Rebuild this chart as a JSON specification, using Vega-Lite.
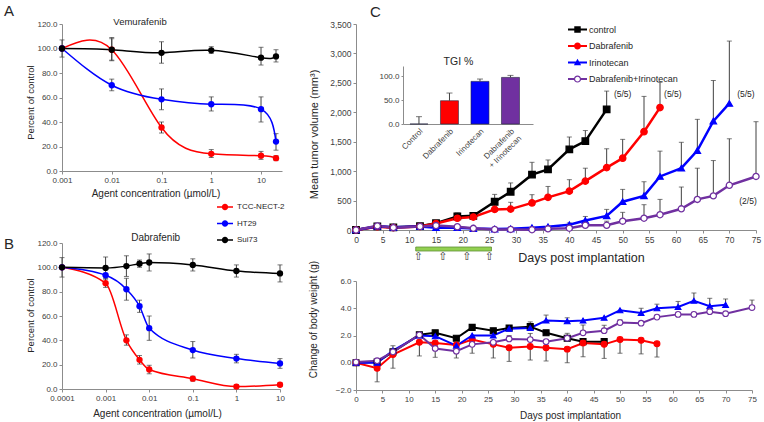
{
"$schema": "https://vega.github.io/schema/vega-lite/v6.json",
"padding": {"left": 3, "top": 4, "right": 2, "bottom": 2},
"autosize": {"type": "pad"},
"background": "white",
"config": {
  "font": "Liberation Sans",
  "view": {"stroke": null},
  "axis": {"grid": false, "domainColor": "#8c8c8c", "tickColor": "#8c8c8c", "tickSize": 3, "labelColor": "#404040", "labelFontSize": 8, "titleColor": "#262626", "titleFontWeight": "normal", "titleFontSize": 10, "labelPadding": 2, "labelFlush": false, "labelOverlap": false},
  "legend": {"title": null}
},
"datasets": {
  "icA": [
    {"line":"TCC-NECT-2","conc":0.001,"pct":100,"lo":100,"hi":100},
    {"line":"TCC-NECT-2","conc":0.01,"pct":99,"lo":90,"hi":108},
    {"line":"TCC-NECT-2","conc":0.1,"pct":35.5,"lo":31,"hi":40},
    {"line":"TCC-NECT-2","conc":1,"pct":14,"lo":11,"hi":17.5},
    {"line":"TCC-NECT-2","conc":10,"pct":12.5,"lo":9.5,"hi":16},
    {"line":"TCC-NECT-2","conc":20,"pct":10.5,"lo":8.5,"hi":12.5},
    {"line":"HT29","conc":0.001,"pct":100,"lo":100,"hi":100},
    {"line":"HT29","conc":0.01,"pct":70,"lo":65.5,"hi":75},
    {"line":"HT29","conc":0.1,"pct":58.5,"lo":50,"hi":67},
    {"line":"HT29","conc":1,"pct":54.5,"lo":49,"hi":60.5},
    {"line":"HT29","conc":10,"pct":50.5,"lo":40,"hi":60.5},
    {"line":"HT29","conc":20,"pct":24,"lo":17,"hi":30.5},
    {"line":"Sui73","conc":0.001,"pct":100,"lo":93,"hi":107},
    {"line":"Sui73","conc":0.01,"pct":99,"lo":90.5,"hi":109},
    {"line":"Sui73","conc":0.1,"pct":96.5,"lo":88,"hi":105.5},
    {"line":"Sui73","conc":1,"pct":98.5,"lo":96,"hi":101.5},
    {"line":"Sui73","conc":10,"pct":92.5,"lo":86.5,"hi":101},
    {"line":"Sui73","conc":20,"pct":93.5,"lo":89,"hi":99}
  ],
  "icB": [
    {"line":"TCC-NECT-2","conc":0.0001,"pct":100,"lo":100,"hi":100},
    {"line":"TCC-NECT-2","conc":0.001,"pct":87,"lo":83.5,"hi":90.5},
    {"line":"TCC-NECT-2","conc":0.003,"pct":40,"lo":36,"hi":44.5},
    {"line":"TCC-NECT-2","conc":0.006,"pct":24,"lo":20.5,"hi":27.5},
    {"line":"TCC-NECT-2","conc":0.01,"pct":16,"lo":12.5,"hi":19.5},
    {"line":"TCC-NECT-2","conc":0.1,"pct":8.5,"lo":6.5,"hi":10.5},
    {"line":"TCC-NECT-2","conc":1,"pct":2,"lo":0.5,"hi":3.5},
    {"line":"TCC-NECT-2","conc":10,"pct":3.5,"lo":2,"hi":5},
    {"line":"HT29","conc":0.0001,"pct":100,"lo":100,"hi":100},
    {"line":"HT29","conc":0.001,"pct":93.5,"lo":92,"hi":95},
    {"line":"HT29","conc":0.003,"pct":82,"lo":73,"hi":91},
    {"line":"HT29","conc":0.006,"pct":68,"lo":63,"hi":73},
    {"line":"HT29","conc":0.01,"pct":50,"lo":40,"hi":60},
    {"line":"HT29","conc":0.1,"pct":32,"lo":25.5,"hi":39},
    {"line":"HT29","conc":1,"pct":25,"lo":21.5,"hi":28.5},
    {"line":"HT29","conc":10,"pct":21,"lo":17,"hi":25},
    {"line":"Sui73","conc":0.0001,"pct":100,"lo":92,"hi":108},
    {"line":"Sui73","conc":0.001,"pct":99.5,"lo":90.5,"hi":108.5},
    {"line":"Sui73","conc":0.003,"pct":101,"lo":92.5,"hi":109.5},
    {"line":"Sui73","conc":0.006,"pct":103,"lo":100,"hi":106},
    {"line":"Sui73","conc":0.01,"pct":104,"lo":97,"hi":111},
    {"line":"Sui73","conc":0.1,"pct":102,"lo":97,"hi":107},
    {"line":"Sui73","conc":1,"pct":97,"lo":92,"hi":102},
    {"line":"Sui73","conc":10,"pct":95,"lo":88,"hi":102}
  ],
  "legB": [{"line":"TCC-NECT-2"},{"line":"HT29"},{"line":"Sui73"}],
  "legC": [{"group":"control"},{"group":"Dabrafenib"},{"group":"Irinotecan"},{"group":"Dabrafenib+Irinotecan"}],
  "one": [{}],
  "doses": [{"day":11.7},{"day":16.3},{"day":20.8},{"day":25}],
  "tgi": [
    {"agent":"Control","tgi":0,"hi":15.3},
    {"agent":"Dabrafenib","tgi":48.6,"hi":64.6},
    {"agent":"Irinotecan","tgi":88.9,"hi":93.8},
    {"agent":"Dabrafenib + Irinotecan","tgi":97.2,"hi":101.4}
  ],
  "tumor": [
    {"group":"control","day":0,"vol":0},{"group":"control","day":4,"vol":60},{"group":"control","day":7,"vol":45},{"group":"control","day":12,"vol":65},{"group":"control","day":15,"vol":115},
    {"group":"control","day":19,"vol":230,"hi":290},{"group":"control","day":22,"vol":240,"hi":270},{"group":"control","day":26,"vol":480,"hi":605},{"group":"control","day":29,"vol":650,"hi":800},
    {"group":"control","day":33,"vol":940,"hi":1150},{"group":"control","day":36,"vol":1030,"hi":1190},{"group":"control","day":40,"vol":1370,"hi":1580},{"group":"control","day":43,"vol":1510,"hi":1690},{"group":"control","day":47,"vol":2050,"hi":2360},
    {"group":"Dabrafenib","day":0,"vol":0},{"group":"Dabrafenib","day":4,"vol":55},{"group":"Dabrafenib","day":7,"vol":40},{"group":"Dabrafenib","day":12,"vol":60},{"group":"Dabrafenib","day":15,"vol":110},
    {"group":"Dabrafenib","day":19,"vol":200,"hi":240},{"group":"Dabrafenib","day":22,"vol":220,"hi":250},{"group":"Dabrafenib","day":26,"vol":350,"hi":425},{"group":"Dabrafenib","day":29,"vol":355,"hi":470},
    {"group":"Dabrafenib","day":33,"vol":460,"hi":600},{"group":"Dabrafenib","day":36,"vol":555,"hi":740},{"group":"Dabrafenib","day":40,"vol":660,"hi":855},{"group":"Dabrafenib","day":43,"vol":830,"hi":1050},
    {"group":"Dabrafenib","day":47,"vol":1060,"hi":1380},{"group":"Dabrafenib","day":50,"vol":1220,"hi":1540},{"group":"Dabrafenib","day":54,"vol":1670,"hi":2270},{"group":"Dabrafenib","day":57,"vol":2080,"hi":2510},
    {"group":"Irinotecan","day":0,"vol":0},{"group":"Irinotecan","day":4,"vol":65},{"group":"Irinotecan","day":7,"vol":45},{"group":"Irinotecan","day":12,"vol":60},{"group":"Irinotecan","day":15,"vol":40},
    {"group":"Irinotecan","day":19,"vol":40},{"group":"Irinotecan","day":22,"vol":25},{"group":"Irinotecan","day":26,"vol":15},{"group":"Irinotecan","day":29,"vol":20},{"group":"Irinotecan","day":33,"vol":40},
    {"group":"Irinotecan","day":36,"vol":55},{"group":"Irinotecan","day":40,"vol":90,"hi":120},{"group":"Irinotecan","day":43,"vol":160,"hi":230},{"group":"Irinotecan","day":47,"vol":240,"hi":350},
    {"group":"Irinotecan","day":50,"vol":480,"hi":690},{"group":"Irinotecan","day":54,"vol":580,"hi":820},{"group":"Irinotecan","day":57,"vol":910,"hi":1340},{"group":"Irinotecan","day":61,"vol":1050,"hi":1490},
    {"group":"Irinotecan","day":64,"vol":1350,"hi":1880},{"group":"Irinotecan","day":67,"vol":1850,"hi":2540},{"group":"Irinotecan","day":70,"vol":2150,"hi":3210},
    {"group":"Dabrafenib+Irinotecan","day":0,"vol":0},{"group":"Dabrafenib+Irinotecan","day":4,"vol":70},{"group":"Dabrafenib+Irinotecan","day":7,"vol":40},{"group":"Dabrafenib+Irinotecan","day":12,"vol":60},
    {"group":"Dabrafenib+Irinotecan","day":15,"vol":75},{"group":"Dabrafenib+Irinotecan","day":19,"vol":55},{"group":"Dabrafenib+Irinotecan","day":22,"vol":28},{"group":"Dabrafenib+Irinotecan","day":26,"vol":10},
    {"group":"Dabrafenib+Irinotecan","day":29,"vol":10},{"group":"Dabrafenib+Irinotecan","day":33,"vol":5},{"group":"Dabrafenib+Irinotecan","day":36,"vol":20},{"group":"Dabrafenib+Irinotecan","day":40,"vol":30},
    {"group":"Dabrafenib+Irinotecan","day":43,"vol":80,"hi":150},{"group":"Dabrafenib+Irinotecan","day":47,"vol":80,"hi":150},{"group":"Dabrafenib+Irinotecan","day":50,"vol":150,"hi":300},
    {"group":"Dabrafenib+Irinotecan","day":54,"vol":200,"hi":430},{"group":"Dabrafenib+Irinotecan","day":57,"vol":260,"hi":520},{"group":"Dabrafenib+Irinotecan","day":61,"vol":360,"hi":730},
    {"group":"Dabrafenib+Irinotecan","day":64,"vol":520,"hi":1050},{"group":"Dabrafenib+Irinotecan","day":67,"vol":580,"hi":1180},{"group":"Dabrafenib+Irinotecan","day":70,"vol":760,"hi":1550},
    {"group":"Dabrafenib+Irinotecan","day":75,"vol":910,"hi":1840}
  ],
  "bw": [
    {"group":"control","day":0,"bw":0},{"group":"control","day":4,"bw":0.05},{"group":"control","day":7,"bw":0.8},{"group":"control","day":12,"bw":2.05},{"group":"control","day":15,"bw":2.2},
    {"group":"control","day":19,"bw":1.8},{"group":"control","day":22,"bw":2.6},{"group":"control","day":26,"bw":2.35},{"group":"control","day":29,"bw":2.55},{"group":"control","day":33,"bw":2.65},
    {"group":"control","day":36,"bw":2.2},{"group":"control","day":40,"bw":1.8},{"group":"control","day":43,"bw":1.55},{"group":"control","day":47,"bw":1.55},
    {"group":"Dabrafenib","day":0,"bw":0},{"group":"Dabrafenib","day":4,"bw":-0.4},{"group":"Dabrafenib","day":7,"bw":0.6},{"group":"Dabrafenib","day":12,"bw":1.5},{"group":"Dabrafenib","day":15,"bw":1.45},
    {"group":"Dabrafenib","day":19,"bw":1.3},{"group":"Dabrafenib","day":22,"bw":1.7},{"group":"Dabrafenib","day":26,"bw":1.35},{"group":"Dabrafenib","day":29,"bw":1.1},{"group":"Dabrafenib","day":33,"bw":1.2},
    {"group":"Dabrafenib","day":36,"bw":1.1},{"group":"Dabrafenib","day":40,"bw":1.0},{"group":"Dabrafenib","day":43,"bw":1.45},{"group":"Dabrafenib","day":47,"bw":1.35},{"group":"Dabrafenib","day":50,"bw":1.7},
    {"group":"Dabrafenib","day":54,"bw":1.65},{"group":"Dabrafenib","day":57,"bw":1.4},
    {"group":"Irinotecan","day":0,"bw":0},{"group":"Irinotecan","day":4,"bw":0.0},{"group":"Irinotecan","day":7,"bw":0.9},{"group":"Irinotecan","day":12,"bw":2.0},{"group":"Irinotecan","day":15,"bw":1.95},
    {"group":"Irinotecan","day":19,"bw":1.25},{"group":"Irinotecan","day":22,"bw":2.0},{"group":"Irinotecan","day":26,"bw":2.0},{"group":"Irinotecan","day":29,"bw":2.5},{"group":"Irinotecan","day":33,"bw":2.55},
    {"group":"Irinotecan","day":36,"bw":3.1},{"group":"Irinotecan","day":40,"bw":3.05},{"group":"Irinotecan","day":43,"bw":3.1},{"group":"Irinotecan","day":47,"bw":3.3},{"group":"Irinotecan","day":50,"bw":3.85},
    {"group":"Irinotecan","day":54,"bw":3.65},{"group":"Irinotecan","day":57,"bw":4.0},{"group":"Irinotecan","day":61,"bw":4.1},{"group":"Irinotecan","day":64,"bw":4.55},{"group":"Irinotecan","day":67,"bw":4.15},
    {"group":"Irinotecan","day":70,"bw":4.25},
    {"group":"Dabrafenib+Irinotecan","day":0,"bw":0.05},{"group":"Dabrafenib+Irinotecan","day":4,"bw":0.15},{"group":"Dabrafenib+Irinotecan","day":7,"bw":0.8},{"group":"Dabrafenib+Irinotecan","day":12,"bw":2.05},
    {"group":"Dabrafenib+Irinotecan","day":15,"bw":1.05},{"group":"Dabrafenib+Irinotecan","day":19,"bw":0.85},{"group":"Dabrafenib+Irinotecan","day":22,"bw":1.35},{"group":"Dabrafenib+Irinotecan","day":26,"bw":1.5},
    {"group":"Dabrafenib+Irinotecan","day":29,"bw":1.75},{"group":"Dabrafenib+Irinotecan","day":33,"bw":1.7},{"group":"Dabrafenib+Irinotecan","day":36,"bw":1.55},{"group":"Dabrafenib+Irinotecan","day":40,"bw":1.8},
    {"group":"Dabrafenib+Irinotecan","day":43,"bw":2.2},{"group":"Dabrafenib+Irinotecan","day":47,"bw":2.35},{"group":"Dabrafenib+Irinotecan","day":50,"bw":2.95},{"group":"Dabrafenib+Irinotecan","day":54,"bw":2.9},
    {"group":"Dabrafenib+Irinotecan","day":57,"bw":3.35},{"group":"Dabrafenib+Irinotecan","day":61,"bw":3.55},{"group":"Dabrafenib+Irinotecan","day":64,"bw":3.55},{"group":"Dabrafenib+Irinotecan","day":67,"bw":3.75},
    {"group":"Dabrafenib+Irinotecan","day":70,"bw":3.6},{"group":"Dabrafenib+Irinotecan","day":75,"bw":4.05}
  ],
  "bwerr": [
    {"group":"Dabrafenib","day":4,"lo":-1.4,"hi":-0.4,"cap":-1.4},{"group":"Dabrafenib","day":7,"lo":-0.4,"hi":0.6,"cap":-0.4},{"group":"Dabrafenib","day":12,"lo":0.5,"hi":1.5,"cap":0.5},
    {"group":"Dabrafenib","day":15,"lo":0.4,"hi":1.45,"cap":0.4},{"group":"Dabrafenib","day":19,"lo":0.35,"hi":1.3,"cap":0.35},{"group":"Dabrafenib","day":22,"lo":0.7,"hi":1.7,"cap":0.7},
    {"group":"Dabrafenib","day":26,"lo":0.35,"hi":1.35,"cap":0.35},{"group":"Dabrafenib","day":29,"lo":0.1,"hi":1.1,"cap":0.1},{"group":"Dabrafenib","day":33,"lo":0.2,"hi":1.2,"cap":0.2},
    {"group":"Dabrafenib","day":36,"lo":0.13,"hi":1.1,"cap":0.13},{"group":"Dabrafenib","day":40,"lo":0.0,"hi":1.0,"cap":0.0},{"group":"Dabrafenib","day":43,"lo":0.44,"hi":1.45,"cap":0.44},
    {"group":"Dabrafenib","day":47,"lo":0.32,"hi":1.35,"cap":0.32},{"group":"Dabrafenib","day":50,"lo":0.7,"hi":1.7,"cap":0.7},{"group":"Dabrafenib","day":54,"lo":0.65,"hi":1.65,"cap":0.65},
    {"group":"Dabrafenib","day":57,"lo":0.42,"hi":1.4,"cap":0.42},
    {"group":"control","day":12,"lo":2.05,"hi":2.2,"cap":2.2},{"group":"control","day":33,"lo":2.65,"hi":3.0,"cap":3.0},{"group":"control","day":40,"lo":1.8,"hi":2.16,"cap":2.16},
    {"group":"Irinotecan","day":7,"lo":0.9,"hi":1.25,"cap":1.25},{"group":"Irinotecan","day":12,"lo":2.0,"hi":2.15,"cap":2.15},{"group":"Irinotecan","day":36,"lo":3.1,"hi":3.5,"cap":3.5},
    {"group":"Irinotecan","day":40,"lo":3.05,"hi":3.3,"cap":3.3},{"group":"Irinotecan","day":54,"lo":3.65,"hi":4.0,"cap":4.0},{"group":"Irinotecan","day":57,"lo":4.0,"hi":4.3,"cap":4.3},
    {"group":"Irinotecan","day":61,"lo":4.1,"hi":4.5,"cap":4.5},{"group":"Irinotecan","day":64,"lo":4.55,"hi":5.12,"cap":5.12},{"group":"Irinotecan","day":67,"lo":4.15,"hi":4.73,"cap":4.73},
    {"group":"Irinotecan","day":70,"lo":4.25,"hi":4.68,"cap":4.68},
    {"group":"Dabrafenib+Irinotecan","day":29,"lo":1.75,"hi":2.0,"cap":2.0},{"group":"Dabrafenib+Irinotecan","day":33,"lo":1.7,"hi":2.15,"cap":2.15},{"group":"Dabrafenib+Irinotecan","day":43,"lo":2.2,"hi":2.77,"cap":2.77},
    {"group":"Dabrafenib+Irinotecan","day":47,"lo":2.35,"hi":2.75,"cap":2.75},{"group":"Dabrafenib+Irinotecan","day":50,"lo":2.95,"hi":3.15,"cap":3.15},{"group":"Dabrafenib+Irinotecan","day":75,"lo":4.05,"hi":4.6,"cap":4.6}
  ]
},
"hconcat": [
  {
    "vconcat": [
      {
        "width": 220, "height": 147,
        "layer": [
          {"data": {"name": "icA"}, "mark": {"type": "rule", "color": "#404040", "strokeWidth": 1},
           "encoding": {
             "x": {"field": "conc", "type": "quantitative", "scale": {"type": "log", "domain": [0.001, 26.4], "nice": false},
                   "axis": {"values": [0.001, 0.01, 0.1, 1, 10], "tickCount": 100, "format": "~g", "labelOverlap": false, "title": "Agent concentration (µmol/L)", "titleX": 93.5, "titleY": 22, "titleBaseline": "middle"}},
             "y": {"field": "lo", "type": "quantitative", "scale": {"domain": [0, 120], "nice": false},
                   "axis": {"values": [0, 20, 40, 60, 80, 100, 120], "tickCount": 100, "format": ".1f", "labelOverlap": false, "title": "Percent of control", "titleX": -32, "titleY": 78, "titleBaseline": "middle", "titleAlign": "center", "titleAngle": -90, "titleFontSize": 9.5}},
             "y2": {"field": "hi"}
           }},
          {"data": {"name": "icA"}, "mark": {"type": "tick", "orient": "horizontal", "color": "#404040", "size": 5, "thickness": 1},
           "encoding": {"x": {"field": "conc", "type": "quantitative"}, "y": {"field": "lo", "type": "quantitative"}}},
          {"data": {"name": "icA"}, "mark": {"type": "tick", "orient": "horizontal", "color": "#404040", "size": 5, "thickness": 1},
           "encoding": {"x": {"field": "conc", "type": "quantitative"}, "y": {"field": "hi", "type": "quantitative"}}},
          {"data": {"name": "icA"}, "mark": {"type": "line", "interpolate": "natural", "strokeWidth": 1.5},
           "encoding": {"x": {"field": "conc", "type": "quantitative"}, "y": {"field": "pct", "type": "quantitative"},
             "color": {"field": "line", "type": "nominal", "scale": {"domain": ["TCC-NECT-2", "HT29", "Sui73"], "range": ["#ff0000", "#0000ff", "#000000"]}, "legend": null}}},
          {"data": {"name": "icA"}, "mark": {"type": "point", "filled": true, "size": 40, "opacity": 1},
           "encoding": {"x": {"field": "conc", "type": "quantitative"}, "y": {"field": "pct", "type": "quantitative"},
             "color": {"field": "line", "type": "nominal", "legend": null}}},
          {"data": {"name": "one"}, "mark": {"type": "text", "fontSize": 9.5, "align": "center", "baseline": "middle", "color": "#262626"},
           "encoding": {"x": {"datum": 0.037, "type": "quantitative"}, "y": {"datum": 121.6, "type": "quantitative"}, "text": {"value": "Vemurafenib"}}},
          {"data": {"name": "one"}, "mark": {"type": "text", "fontSize": 15, "align": "left", "baseline": "top", "color": "#262626"},
           "encoding": {"x": {"datum": 0.0000683, "type": "quantitative"}, "y": {"datum": 136.3, "type": "quantitative"}, "text": {"value": "A"}}}
        ]
      },
      {
        "width": 218, "height": 146,
        "layer": [
          {"data": {"name": "icB"}, "mark": {"type": "rule", "color": "#404040", "strokeWidth": 1},
           "encoding": {
             "x": {"field": "conc", "type": "quantitative", "scale": {"type": "log", "domain": [0.0001, 10], "nice": false},
                   "axis": {"values": [0.0001, 0.001, 0.01, 0.1, 1, 10], "tickCount": 100, "format": "~g", "labelOverlap": false, "title": "Agent concentration (µmol/L)", "titleX": 95, "titleY": 24, "titleBaseline": "middle"}},
             "y": {"field": "lo", "type": "quantitative", "scale": {"domain": [0, 120], "nice": false},
                   "axis": {"values": [0, 20, 40, 60, 80, 100, 120], "tickCount": 100, "format": ".1f", "labelOverlap": false, "title": "Percent of control", "titleX": -32, "titleY": 72, "titleBaseline": "middle", "titleAlign": "center", "titleAngle": -90, "titleFontSize": 9.5}},
             "y2": {"field": "hi"}
           }},
          {"data": {"name": "icB"}, "mark": {"type": "tick", "orient": "horizontal", "color": "#404040", "size": 5, "thickness": 1},
           "encoding": {"x": {"field": "conc", "type": "quantitative"}, "y": {"field": "lo", "type": "quantitative"}}},
          {"data": {"name": "icB"}, "mark": {"type": "tick", "orient": "horizontal", "color": "#404040", "size": 5, "thickness": 1},
           "encoding": {"x": {"field": "conc", "type": "quantitative"}, "y": {"field": "hi", "type": "quantitative"}}},
          {"data": {"name": "icB"}, "mark": {"type": "line", "interpolate": "monotone", "strokeWidth": 1.5},
           "encoding": {"x": {"field": "conc", "type": "quantitative"}, "y": {"field": "pct", "type": "quantitative"},
             "color": {"field": "line", "type": "nominal", "scale": {"domain": ["TCC-NECT-2", "HT29", "Sui73"], "range": ["#ff0000", "#0000ff", "#000000"]}, "legend": null}}},
          {"data": {"name": "icB"}, "mark": {"type": "point", "filled": true, "size": 40, "opacity": 1},
           "encoding": {"x": {"field": "conc", "type": "quantitative"}, "y": {"field": "pct", "type": "quantitative"},
             "color": {"field": "line", "type": "nominal", "scale": {"domain": ["TCC-NECT-2", "HT29", "Sui73"], "range": ["#ff0000", "#0000ff", "#000000"]}, "legend": null}}},
          {"data": {"name": "one"}, "mark": {"type": "text", "fontSize": 10, "align": "center", "baseline": "middle", "color": "#262626"},
           "encoding": {"x": {"datum": 0.0141, "type": "quantitative"}, "y": {"datum": 123.9, "type": "quantitative"}, "text": {"value": "Dabrafenib"}}},
          {"data": {"name": "one"}, "mark": {"type": "text", "fontSize": 15, "align": "left", "baseline": "top", "color": "#262626"},
           "encoding": {"x": {"datum": 0.00000467, "type": "quantitative"}, "y": {"datum": 124.9, "type": "quantitative"}, "text": {"value": "B"}}},
          {"data": {"name": "legB"}, "mark": {"type": "point", "filled": true, "opacity": 0},
           "encoding": {
             "color": {"field": "line", "type": "nominal", "scale": {"domain": ["TCC-NECT-2", "HT29", "Sui73"], "range": ["#ff0000", "#0000ff", "#000000"]},
               "legend": {"orient": "none", "legendX": 155, "legendY": -44, "title": null, "symbolSize": 256, "symbolStrokeWidth": 0, "symbolOpacity": 1, "labelFontSize": 8, "labelColor": "#262626", "labelOffset": 4, "rowPadding": 4.5, "padding": 0}},
             "shape": {"field": "line", "type": "nominal",
               "scale": {"domain": ["TCC-NECT-2", "HT29", "Sui73"], "range": [
                 "M-1,-0.094H1V0.094H-1Z M0.4,0A0.4,0.4,0,1,1,-0.4,0A0.4,0.4,0,1,1,0.4,0Z",
                 "M-1,-0.094H1V0.094H-1Z M0.4,0A0.4,0.4,0,1,1,-0.4,0A0.4,0.4,0,1,1,0.4,0Z",
                 "M-1,-0.094H1V0.094H-1Z M0.4,0A0.4,0.4,0,1,1,-0.4,0A0.4,0.4,0,1,1,0.4,0Z"]},
               "legend": {"orient": "none", "legendX": 155, "legendY": -44, "title": null, "symbolSize": 256, "symbolStrokeWidth": 0, "symbolOpacity": 1, "labelFontSize": 8, "labelColor": "#262626", "labelOffset": 4, "rowPadding": 4.5, "padding": 0}}
           }}
        ],
        "resolve": {"scale": {"shape": "independent", "color": "independent"}}
      }
    ],
    "spacing": 72,
    "bounds": "flush",
    "resolve": {"scale": {"color": "independent", "shape": "independent", "fill": "independent", "stroke": "independent", "size": "independent"}}
  },
  {
    "vconcat": [
      {
        "width": 400, "height": 206,
        "layer": [
          {
            "layer": [
              {"data": {"name": "tumor"}, "transform": [{"filter": "isValid(datum.hi)"}], "mark": {"type": "rule", "color": "#404040", "strokeWidth": 1},
               "encoding": {
                 "x": {"field": "day", "type": "quantitative", "scale": {"domain": [0, 75], "nice": false},
                       "axis": {"values": [0,5,10,15,20,25,30,35,40,45,50,55,60,65,70,75], "tickCount": 100, "format": ".0f", "labelOverlap": false, "title": "Days post implantation", "titleX": 225, "titleY": 27, "titleBaseline": "middle", "titleFontSize": 12.5, "labelFontSize": 8.5}},
                 "y": {"field": "vol", "type": "quantitative", "scale": {"domain": [0, 3500], "nice": false},
                       "axis": {"values": [0,500,1000,1500,2000,2500,3000,3500], "tickCount": 100, "format": ",.0f", "labelOverlap": false, "title": "Mean tumor volume (mm³)", "titleX": -42, "titleY": 110, "titleBaseline": "middle", "titleAlign": "center", "titleAngle": -90, "titleFontSize": 11, "labelFontSize": 8.5}},
                 "y2": {"field": "hi"}
               }},
              {"data": {"name": "one"}, "mark": {"type": "rect", "fill": "#92d050", "stroke": "#5f8f35", "strokeWidth": 0.8},
               "encoding": {
                 "x": {"datum": 11.2, "type": "quantitative"},
                 "x2": {"datum": 25.4},
                 "y": {"datum": -289, "type": "quantitative"},
                 "y2": {"datum": -357}
               }},
              {"data": {"name": "doses"}, "mark": {"type": "text", "font": "DejaVu Sans", "fontSize": 11, "align": "center", "baseline": "middle", "color": "#333333"},
               "encoding": {"x": {"field": "day", "type": "quantitative"}, "y": {"datum": -467, "type": "quantitative"}, "text": {"value": "⇧"}}},
              {"data": {"name": "tumor"}, "transform": [{"filter": "isValid(datum.hi)"}], "mark": {"type": "tick", "orient": "horizontal", "color": "#404040", "size": 5, "thickness": 1},
               "encoding": {"x": {"field": "day", "type": "quantitative"}, "y": {"field": "hi", "type": "quantitative"}}},
              {"data": {"name": "tumor"}, "mark": {"type": "line", "strokeWidth": 2.5},
               "encoding": {"x": {"field": "day", "type": "quantitative"}, "y": {"field": "vol", "type": "quantitative"},
                 "color": {"field": "group", "type": "nominal", "scale": {"domain": ["control", "Dabrafenib", "Irinotecan", "Dabrafenib+Irinotecan"], "range": ["#000000", "#ff0000", "#0000ff", "#7030a0"]}, "legend": null}}},
              {"data": {"name": "tumor"}, "mark": {"type": "point", "opacity": 1, "strokeWidth": 1.3},
               "encoding": {"x": {"field": "day", "type": "quantitative"}, "y": {"field": "vol", "type": "quantitative"},
                 "stroke": {"field": "group", "type": "nominal", "scale": {"domain": ["control", "Dabrafenib", "Irinotecan", "Dabrafenib+Irinotecan"], "range": ["#000000", "#ff0000", "#0000ff", "#7030a0"]}, "legend": null},
                 "fill": {"field": "group", "type": "nominal", "scale": {"domain": ["control", "Dabrafenib", "Irinotecan", "Dabrafenib+Irinotecan"], "range": ["#000000", "#ff0000", "#0000ff", "#ffffff"]}, "legend": null},
                 "shape": {"field": "group", "type": "nominal", "scale": {"domain": ["control", "Dabrafenib", "Irinotecan", "Dabrafenib+Irinotecan"], "range": ["square", "circle", "triangle-up", "circle"]}, "legend": null},
                 "size": {"field": "group", "type": "nominal", "scale": {"domain": ["control", "Dabrafenib", "Irinotecan", "Dabrafenib+Irinotecan"], "range": [42, 38, 50, 70]}, "legend": null}}},
              {"data": {"name": "one"}, "mark": {"type": "text", "fontSize": 8.5, "align": "center", "baseline": "middle", "color": "#262626"},
               "encoding": {"x": {"datum": 50, "type": "quantitative"}, "y": {"datum": 2305, "type": "quantitative"}, "text": {"value": "(5/5)"}}},
              {"data": {"name": "one"}, "mark": {"type": "text", "fontSize": 8.5, "align": "center", "baseline": "middle", "color": "#262626"},
               "encoding": {"x": {"datum": 59.4, "type": "quantitative"}, "y": {"datum": 2305, "type": "quantitative"}, "text": {"value": "(5/5)"}}},
              {"data": {"name": "one"}, "mark": {"type": "text", "fontSize": 8.5, "align": "center", "baseline": "middle", "color": "#262626"},
               "encoding": {"x": {"datum": 73.1, "type": "quantitative"}, "y": {"datum": 2305, "type": "quantitative"}, "text": {"value": "(5/5)"}}},
              {"data": {"name": "one"}, "mark": {"type": "text", "fontSize": 8.5, "align": "center", "baseline": "middle", "color": "#262626"},
               "encoding": {"x": {"datum": 73.5, "type": "quantitative"}, "y": {"datum": 500, "type": "quantitative"}, "text": {"value": "(2/5)"}}},
              {"data": {"name": "one"}, "mark": {"type": "text", "fontSize": 15, "align": "left", "baseline": "top", "color": "#262626"},
               "encoding": {"x": {"datum": 2.63, "type": "quantitative"}, "y": {"datum": 3823, "type": "quantitative"}, "text": {"value": "C"}}}
            ]
          },
          {
            "layer": [
              {"data": {"name": "tgi"}, "mark": {"type": "bar", "stroke": "#262640", "strokeWidth": 0.6},
               "encoding": {
                 "x": {"field": "agent", "type": "nominal", "sort": null,
                       "scale": {"type": "band", "domain": ["Control", "Dabrafenib", "Irinotecan", "Dabrafenib + Irinotecan"], "range": [47, 177], "paddingInner": 0.41, "paddingOuter": 0.336, "align": 0.34},
                       "axis": {"orient": "bottom", "offset": -106, "title": null, "labelAngle": -45, "labelFontSize": 8, "ticks": false, "labelPadding": 3, "labelOverlap": false,
                                "labelExpr": "datum.value == 'Dabrafenib + Irinotecan' ? ['Dabrafenib', '+ Irinotecan'] : datum.label"}},
                 "y": {"field": "tgi", "type": "quantitative", "scale": {"domain": [0, 121], "range": [100, 42], "nice": false},
                       "axis": {"orient": "left", "offset": -47, "values": [0, 50, 100], "tickCount": 100, "format": ".1f", "labelOverlap": false, "title": null, "labelFontSize": 8, "tickSize": 2}},
                 "color": {"field": "agent", "type": "nominal", "scale": {"domain": ["Control", "Dabrafenib", "Irinotecan", "Dabrafenib + Irinotecan"], "range": ["#ffffff", "#ff0000", "#0000ff", "#7030a0"]}, "legend": null}
               }},
              {"data": {"name": "tgi"}, "mark": {"type": "rule", "color": "#404040", "strokeWidth": 1},
               "encoding": {"x": {"field": "agent", "type": "nominal"}, "y": {"field": "tgi", "type": "quantitative"}, "y2": {"field": "hi"}}},
              {"data": {"name": "tgi"}, "mark": {"type": "tick", "color": "#404040", "size": 6, "thickness": 1},
               "encoding": {"x": {"field": "agent", "type": "nominal"}, "y": {"field": "hi", "type": "quantitative"}}},
              {"data": {"name": "one"}, "mark": {"type": "text", "fontSize": 10.5, "align": "center", "baseline": "middle", "color": "#262626"},
               "encoding": {"x": {"datum": "Dabrafenib", "type": "nominal", "bandPosition": 1}, "y": {"datum": 129.4, "type": "quantitative"}, "text": {"value": "TGI  %"}}}
            ]
          },
          {"data": {"name": "legC"}, "mark": {"type": "point", "filled": true, "opacity": 0},
           "encoding": {
             "color": {"field": "group", "type": "nominal", "scale": {"domain": ["control", "Dabrafenib", "Irinotecan", "Dabrafenib+Irinotecan"], "range": ["#000000", "#ff0000", "#0000ff", "#7030a0"]},
               "legend": {"orient": "none", "legendX": 212, "legendY": -4, "title": null, "symbolSize": 361, "symbolStrokeWidth": 0, "symbolOpacity": 1, "labelFontSize": 9, "labelColor": "#262626", "labelOffset": 2, "rowPadding": 1.5, "padding": 0}},
             "shape": {"field": "group", "type": "nominal",
               "scale": {"domain": ["control", "Dabrafenib", "Irinotecan", "Dabrafenib+Irinotecan"], "range": [
                 "M-1,-0.105H1V0.105H-1Z M-0.34,-0.34H0.34V0.34H-0.34Z",
                 "M-1,-0.105H1V0.105H-1Z M0.37,0A0.37,0.37,0,1,1,-0.37,0A0.37,0.37,0,1,1,0.37,0Z",
                 "M-1,-0.105H1V0.105H-1Z M0,-0.4L0.38,0.3L-0.38,0.3Z",
                 "M-1,-0.105H-0.37V0.105H-1Z M0.37,-0.105H1V0.105H0.37Z M0.38,0A0.38,0.38,0,1,1,-0.38,0A0.38,0.38,0,1,1,0.38,0Z M0.25,0A0.25,0.25,0,1,0,-0.25,0A0.25,0.25,0,1,0,0.25,0Z"]},
               "legend": {"orient": "none", "legendX": 212, "legendY": -4, "title": null, "symbolSize": 361, "symbolStrokeWidth": 0, "symbolOpacity": 1, "labelFontSize": 9, "labelColor": "#262626", "labelOffset": 2, "rowPadding": 1.5, "padding": 0}}
           }}
        ],
        "resolve": {"scale": {"x": "independent", "y": "independent", "color": "independent", "shape": "independent", "fill": "independent", "stroke": "independent", "size": "independent"}}
      },
      {
        "width": 396, "height": 109,
        "layer": [
          {"data": {"name": "bwerr"}, "mark": {"type": "rule", "color": "#404040", "strokeWidth": 1},
           "encoding": {
             "x": {"field": "day", "type": "quantitative", "scale": {"domain": [0, 75], "nice": false},
                   "axis": {"values": [0,5,10,15,20,25,30,35,40,45,50,55,60,65,70,75], "tickCount": 100, "format": ".0f", "labelOverlap": false, "title": "Days post implantation", "titleX": 214, "titleY": 25, "titleBaseline": "middle"}},
             "y": {"field": "lo", "type": "quantitative", "scale": {"domain": [-2, 6], "nice": false},
                   "axis": {"values": [-2, 0, 2, 4, 6], "tickCount": 100, "format": ".1f", "labelOverlap": false, "title": "Change of body weight (g)", "titleX": -43, "titleY": 38, "titleBaseline": "middle", "titleAlign": "center", "titleAngle": -90}},
             "y2": {"field": "hi"}
           }},
          {"data": {"name": "bwerr"}, "mark": {"type": "tick", "orient": "horizontal", "color": "#404040", "size": 5, "thickness": 1},
           "encoding": {"x": {"field": "day", "type": "quantitative"}, "y": {"field": "cap", "type": "quantitative"}}},
          {"data": {"name": "bw"}, "mark": {"type": "line", "strokeWidth": 2},
           "encoding": {"x": {"field": "day", "type": "quantitative"}, "y": {"field": "bw", "type": "quantitative"},
             "color": {"field": "group", "type": "nominal", "scale": {"domain": ["control", "Dabrafenib", "Irinotecan", "Dabrafenib+Irinotecan"], "range": ["#000000", "#ff0000", "#0000ff", "#7030a0"]}, "legend": null}}},
          {"data": {"name": "bw"}, "mark": {"type": "point", "opacity": 1, "strokeWidth": 1.1},
           "encoding": {"x": {"field": "day", "type": "quantitative"}, "y": {"field": "bw", "type": "quantitative"},
             "stroke": {"field": "group", "type": "nominal", "scale": {"domain": ["control", "Dabrafenib", "Irinotecan", "Dabrafenib+Irinotecan"], "range": ["#000000", "#ff0000", "#0000ff", "#7030a0"]}, "legend": null},
             "fill": {"field": "group", "type": "nominal", "scale": {"domain": ["control", "Dabrafenib", "Irinotecan", "Dabrafenib+Irinotecan"], "range": ["#000000", "#ff0000", "#0000ff", "#ffffff"]}, "legend": null},
             "shape": {"field": "group", "type": "nominal", "scale": {"domain": ["control", "Dabrafenib", "Irinotecan", "Dabrafenib+Irinotecan"], "range": ["square", "circle", "triangle-up", "circle"]}, "legend": null},
             "size": {"field": "group", "type": "nominal", "scale": {"domain": ["control", "Dabrafenib", "Irinotecan", "Dabrafenib+Irinotecan"], "range": [36, 32, 40, 50]}, "legend": null}}}
        ]
      }
    ],
    "spacing": 51,
    "bounds": "flush",
    "resolve": {"scale": {"color": "independent", "shape": "independent", "fill": "independent", "stroke": "independent", "size": "independent"}}
  }
],
"spacing": 294,
"bounds": "flush",
"resolve": {"scale": {"color": "independent", "shape": "independent", "fill": "independent", "stroke": "independent", "size": "independent"}}
}
